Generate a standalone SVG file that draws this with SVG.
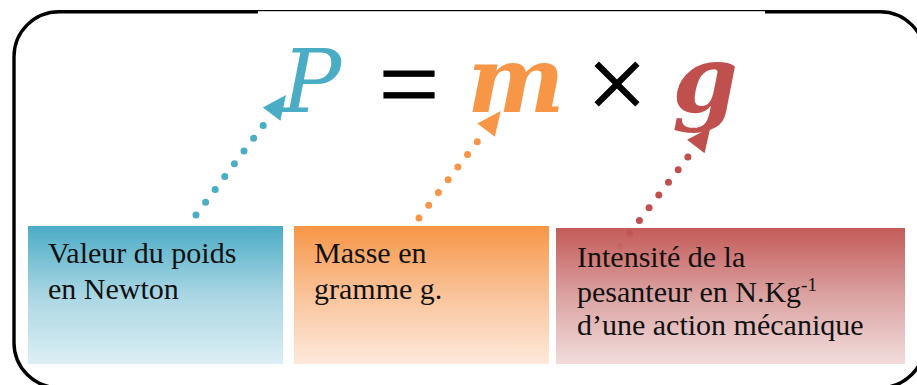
<svg xmlns="http://www.w3.org/2000/svg" width="917" height="385" viewBox="0 0 917 385">
  <style>
    .lbl { font-family: "Liberation Serif", "Times New Roman", serif; font-size: 30px; fill: #111; }
    .var { font-family: "DejaVu Serif", "Liberation Serif", serif; font-style: italic; }
    .op { font-family: "Liberation Serif", "Times New Roman", serif; font-size: 108px; fill: #000; stroke: #000; stroke-width: 0.8; }
    .dots { fill: none; stroke-width: 7; stroke-linecap: round; stroke-dasharray: 0 16; }
  </style>
  <defs>
    <linearGradient id="gTeal" x1="0" y1="0" x2="0" y2="1">
      <stop offset="0" stop-color="#4BACC6"/>
      <stop offset="0.5" stop-color="#A9D6E3"/>
      <stop offset="1" stop-color="#DCEFF4"/>
    </linearGradient>
    <linearGradient id="gOrange" x1="0" y1="0" x2="0" y2="1">
      <stop offset="0" stop-color="#F79646"/>
      <stop offset="0.5" stop-color="#FAC39A"/>
      <stop offset="1" stop-color="#FDEADB"/>
    </linearGradient>
    <linearGradient id="gRed" x1="0" y1="0" x2="0" y2="1">
      <stop offset="0" stop-color="#C0504D" stop-opacity="0.93"/>
      <stop offset="0.5" stop-color="#DBA3A2"/>
      <stop offset="1" stop-color="#F2DCDC"/>
    </linearGradient>
    <marker id="aTeal" markerUnits="userSpaceOnUse" markerWidth="30" markerHeight="30" refX="0" refY="12" orient="auto" overflow="visible">
      <path d="M0,1 L24,12 L0,23 z" fill="#4BACC6"/>
    </marker>
    <marker id="aOrange" markerUnits="userSpaceOnUse" markerWidth="30" markerHeight="30" refX="0" refY="12" orient="auto" overflow="visible">
      <path d="M0,1 L24,12 L0,23 z" fill="#F79646"/>
    </marker>
    <marker id="aRed" markerUnits="userSpaceOnUse" markerWidth="30" markerHeight="30" refX="0" refY="12" orient="auto" overflow="visible">
      <path d="M0,1 L24,12 L0,23 z" fill="#C0504D"/>
    </marker>
  </defs>

  <!-- frame -->
  <g id="frame">
    <rect x="14" y="11.7" width="911" height="376" rx="45" ry="45" fill="none" stroke="#000" stroke-width="3.4"/>
    <rect x="258" y="11.2" width="507" height="3" fill="#fff"/>
  </g>

  <!-- formula -->
  <g id="formula">
    <text class="var" x="282" y="112" font-size="88" fill="#4BACC6">P</text>
    <text class="op" x="409" y="120" text-anchor="middle">=</text>
    <text class="var" x="516" y="112" font-size="92" font-weight="bold" fill="#F79646" text-anchor="middle">m</text>
    <text class="op" x="617" y="120" text-anchor="middle">×</text>
    <text class="var" x="705" y="112" font-size="94" font-weight="bold" fill="#C0504D" text-anchor="middle">g</text>
  </g>

  <!-- connectors -->
  <g id="connectors">
    <path class="dots" d="M196,215 L271.6,114.2" stroke="#4BACC6" marker-end="url(#aTeal)"/>
    <path class="dots" d="M409.3,230.7 L486.1,130.1" stroke="#F79646" marker-end="url(#aOrange)"/>
    <path class="dots" d="M620,246 L695.8,146.5" stroke="#C0504D" marker-end="url(#aRed)"/>
  </g>

  <g id="node-poids">
    <rect x="28" y="226" width="255" height="138" fill="url(#gTeal)"/>
    <text class="lbl" x="48" y="263">Valeur du poids</text>
    <text class="lbl" x="48" y="299">en Newton</text>
  </g>

  <g id="node-masse">
    <rect x="294" y="226" width="255" height="138" fill="url(#gOrange)"/>
    <text class="lbl" x="314" y="263">Masse en</text>
    <text class="lbl" x="314" y="299">gramme g.</text>
  </g>

  <g id="node-intensite">
    <rect x="556" y="228" width="349" height="136" fill="url(#gRed)"/>
    <text class="lbl" x="577" y="267">Intensité de la</text>
    <text class="lbl" x="577" y="301.5">pesanteur en N.Kg<tspan font-size="19" dy="-11">-1</tspan></text>
    <text class="lbl" x="577" y="335">d’une action mécanique</text>
  </g>
</svg>
